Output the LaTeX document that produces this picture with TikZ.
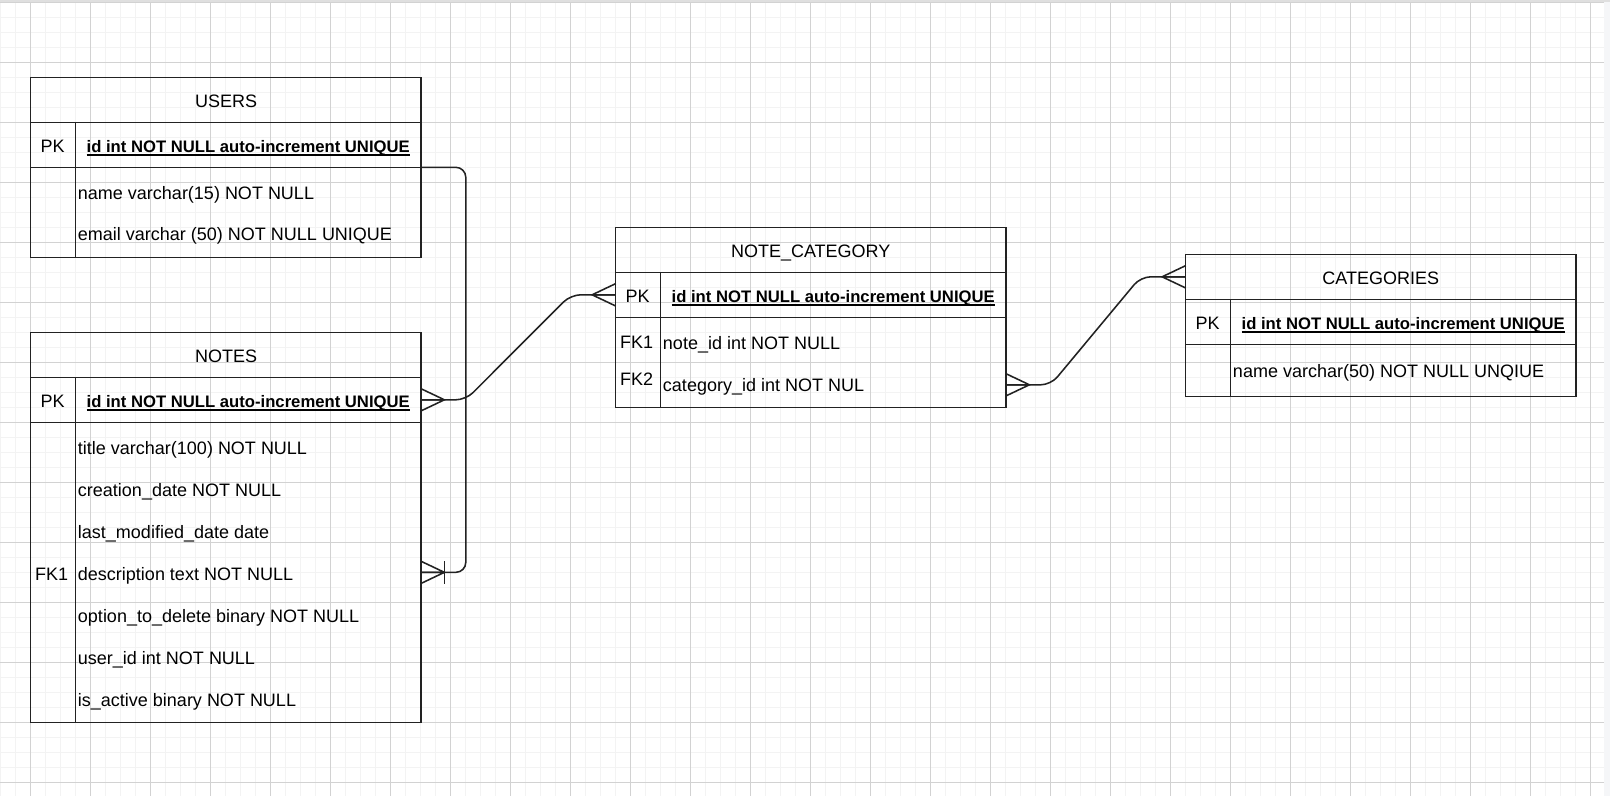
\documentclass[tikz,border=0pt]{standalone}
\usepackage{fontspec}
\setmainfont{Liberation Sans}
\newcommand\keyul[1]{\setbox0\hbox{#1}\rlap{\rule[-2.1pt]{\wd0}{0.9pt}}\box0}
\usetikzlibrary{calc}
\definecolor{gridmajor}{HTML}{D2D2D2}
\definecolor{gridminor}{HTML}{F3F3F3}
\definecolor{rimcol}{HTML}{F5F6F8}
\definecolor{linecol}{HTML}{222222}
\tikzset{
  band/.style={draw=linecol, line width=1.1pt, minimum width=9.75cm, minimum height=#1, inner sep=0, outer sep=0, anchor=north west},
  divider/.style={linecol, line width=1.1pt},
  txt/.style={inner sep=0, text height=0.322cm, text depth=0cm, font=\fontsize{12.8pt}{15pt}\selectfont},
  keyname/.style={txt, font=\fontsize{11.85pt}{15pt}\selectfont\bfseries},
  field/.style={txt, anchor=west},
  conn/.style={linecol, line width=1.1pt, rounded corners=0.25cm},
  pics/crow/.style={code={\draw[conn, sharp corners] (0,-11.2) -- (23.6,0) -- (0,11.2) (0,0) -- (23.6,0);}},
  pics/bar/.style={code={\draw[conn, sharp corners] (23.6,-11.3) -- (23.6,11.3);}},
}
\begin{document}
\begin{tikzpicture}[x=0.025cm, y=-0.025cm]
\useasboundingbox (0,0) rectangle (1610,796);
% grid background
\fill[white] (0,0) rectangle (1610,796);
\foreach \x in {0.7,15.7,...,1600} \draw[gridminor, line width=0.9pt] (\x,0) -- (\x,796);
\foreach \y in {2.3,17.3,...,796} \draw[gridminor, line width=0.9pt] (0,\y) -- (1604,\y);
\foreach \x in {30.7,90.7,...,1600} \draw[gridmajor, line width=0.7pt] (\x,0) -- (\x,796);
\foreach \y in {2.3,62.3,...,796} \draw[gridmajor, line width=0.7pt] (0,\y) -- (1604,\y);
\fill[rimcol] (1604,0) rectangle (1610,796);
\fill[gray!25] (0,0) rectangle (1610,1.7);

% USERS
\node[band=1.125cm] (users) at (30.7,77.3) {};
\node[band=1.125cm] (users-pk) at (30.7,122.3) {};
\node[band=2.25cm] (users-body) at (30.7,167.3) {};
\draw[divider] (75.7,122.3) -- (75.7,257.3);
\node[txt] (users-title) at (226.2,100.8) {USERS};
\node[txt] (users-key) at (52.7,146.3) {PK};
\node[keyname] (users-id) at (248.2,146.3) {\keyul{id int NOT NULL auto-increment UNIQUE}};
\node[field] (users-f1) at (77.7,193.3) {name varchar(15) NOT NULL};
\node[field] (users-f2) at (77.7,234.3) {email varchar (50) NOT NULL UNIQUE};

% NOTES
\node[band=1.125cm] (notes) at (30.7,332.3) {};
\node[band=1.125cm] (notes-pk) at (30.7,377.3) {};
\node[band=7.5cm] (notes-body) at (30.7,422.3) {};
\draw[divider] (75.7,377.3) -- (75.7,722.3);
\node[txt] (notes-title) at (226.2,355.8) {NOTES};
\node[txt] (notes-key) at (52.7,401.3) {PK};
\node[keyname] (notes-id) at (248.2,401.3) {\keyul{id int NOT NULL auto-increment UNIQUE}};
\foreach \t [count=\i] in {title varchar(100) NOT NULL, creation\_date NOT NULL,
    last\_modified\_date date, description text NOT NULL, option\_to\_delete binary NOT NULL,
    user\_id int NOT NULL, is\_active binary NOT NULL}
  \node[field] (notes-f\i) at (77.7,405.7+42*\i) {\t};
\node[txt] (notes-fk) at (51.7,573.7) {FK1};

% NOTE_CATEGORY
\node[band=1.125cm] (nc) at (615.7,227.3) {};
\node[band=1.125cm] (nc-pk) at (615.7,272.3) {};
\node[band=2.25cm] (nc-body) at (615.7,317.3) {};
\draw[divider] (660.7,272.3) -- (660.7,407.3);
\node[txt] (nc-title) at (810.7,250.8) {NOTE\_CATEGORY};
\node[txt] (nc-key) at (637.7,296.3) {PK};
\node[keyname] (nc-id) at (833.2,296.3) {\keyul{id int NOT NULL auto-increment UNIQUE}};
\node[txt] (nc-fk1) at (636.7,341.7) {FK1};
\node[txt] (nc-fk2) at (636.7,379) {FK2};
\node[field] (nc-f1) at (662.7,343.3) {note\_id int NOT NULL};
\node[field] (nc-f2) at (662.7,384.8) {category\_id int NOT NUL};

% CATEGORIES
\node[band=1.125cm] (cat) at (1185.7,254.3) {};
\node[band=1.125cm] (cat-pk) at (1185.7,299.3) {};
\node[band=1.3cm] (cat-body) at (1185.7,344.3) {};
\draw[divider] (1230.7,299.3) -- (1230.7,396.3);
\node[txt] (cat-title) at (1380.7,277.8) {CATEGORIES};
\node[txt] (cat-key) at (1207.7,323.3) {PK};
\node[keyname] (cat-id) at (1403.2,323.3) {\keyul{id int NOT NULL auto-increment UNIQUE}};
\node[field] (cat-f1) at (1232.7,371) {name varchar(50) NOT NULL UNQIUE};

% relations
\draw[conn] (users-pk.south east) -- ++(45,0) |- (notes-body.east);
\pic at (notes-body.east) {crow};
\pic at (notes-body.east) {bar};

\draw[conn] (notes-pk.east) -- ++(45,0) -- ($(nc-pk.west)+(-45,0)$) -- (nc-pk.west);
\pic at (notes-pk.east) {crow};
\pic[xscale=-1] at (nc-pk.west) {crow};

\draw[conn] (nc-body.east |- nc-f2) -- ++(45,0) -- ($(cat.west)+(-45,0)$) -- (cat.west);
\pic at (nc-body.east |- nc-f2) {crow};
\pic[xscale=-1] at (cat.west) {crow};
\end{tikzpicture}
\end{document}
